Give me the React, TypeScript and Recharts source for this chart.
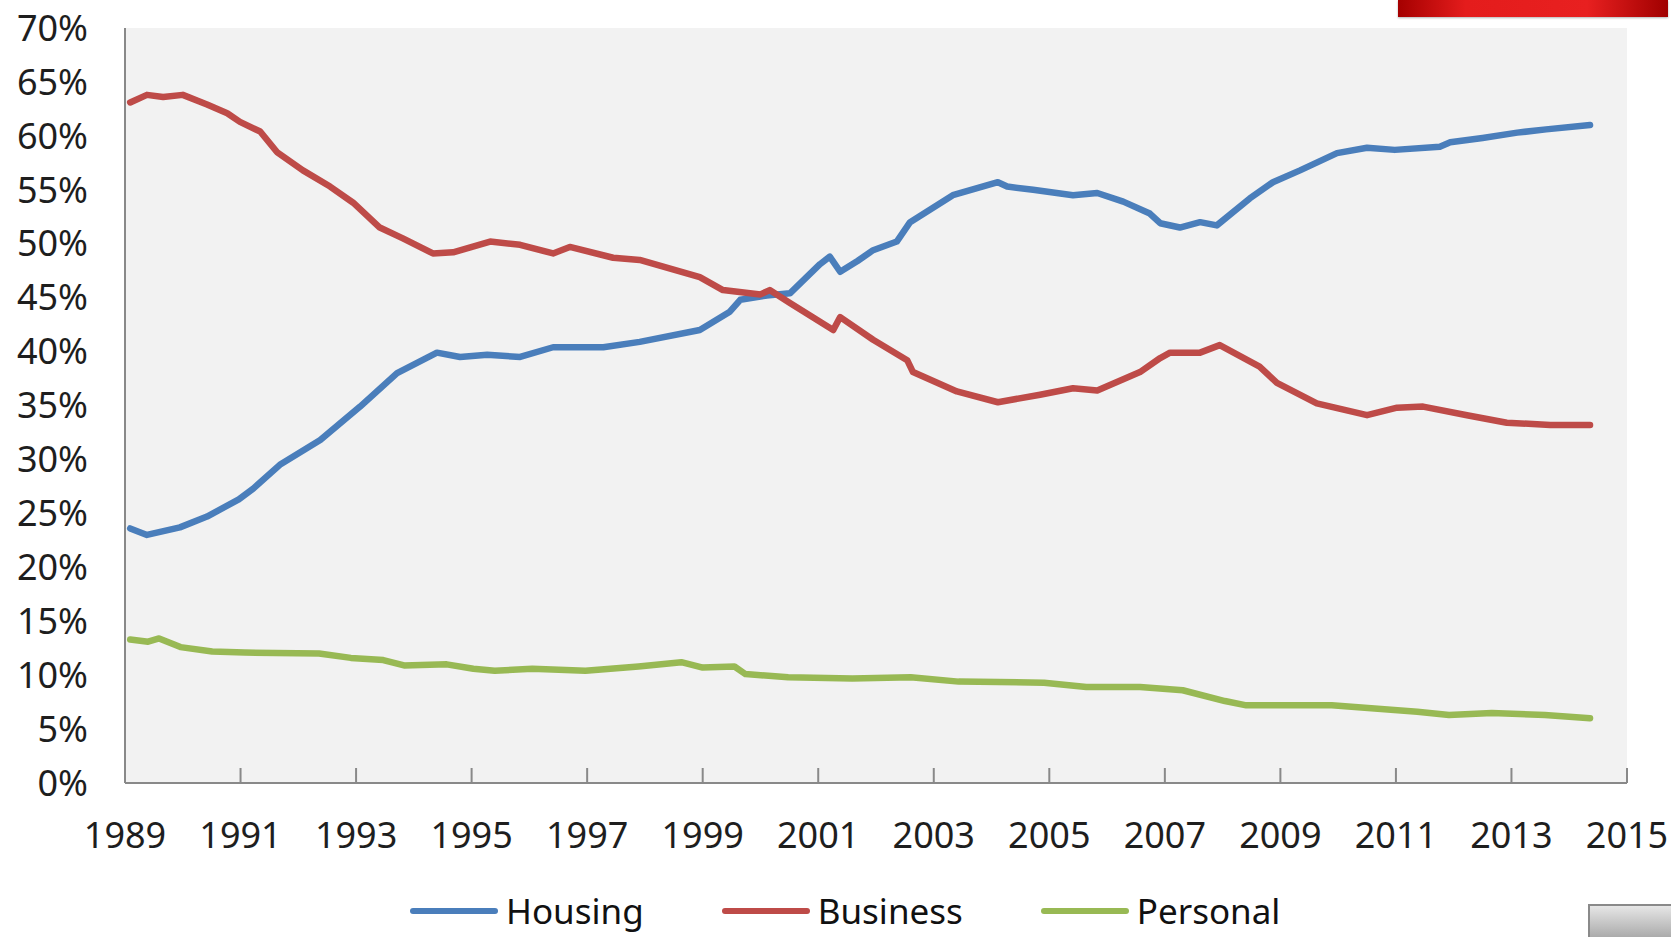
import React from 'react';
import { LineChart, Line, XAxis, YAxis, CartesianGrid, Legend } from 'recharts';

// share of outstanding lending by segment, % of total
const HOUSING_YEARS = [1989.09, 1989.38, 1989.95, 1990.42, 1990.97, 1991.22, 1991.68, 1992.38, 1993.07, 1993.71, 1994.4, 1994.8, 1995.27, 1995.84, 1996.41, 1997.28, 1997.91, 1998.95, 1999.47, 1999.65, 2000.11, 2000.51, 2001.03, 2001.2, 2001.38, 2001.68, 2001.95, 2002.36, 2002.59, 2003.33, 2004.11, 2004.27, 2004.72, 2005.41, 2005.83, 2006.28, 2006.74, 2006.92, 2007.26, 2007.61, 2007.9, 2008.47, 2008.87, 2009.34, 2009.98, 2010.5, 2010.98, 2011.76, 2011.94, 2012.5, 2013.1, 2013.6, 2014.36];
const HOUSING = [23.6, 23.0, 23.7, 24.7, 26.3, 27.3, 29.5, 31.8, 34.9, 38.0, 39.9, 39.5, 39.7, 39.5, 40.4, 40.4, 40.9, 42.0, 43.7, 44.8, 45.2, 45.4, 48.1, 48.8, 47.4, 48.4, 49.4, 50.2, 52.0, 54.5, 55.7, 55.3, 55.0, 54.5, 54.7, 53.9, 52.8, 51.9, 51.5, 52.0, 51.7, 54.2, 55.7, 56.8, 58.4, 58.9, 58.7, 59.0, 59.4, 59.8, 60.3, 60.6, 61.0];

const BUSINESS_YEARS = [1989.09, 1989.38, 1989.66, 1990.0, 1990.42, 1990.77, 1990.99, 1991.34, 1991.63, 1992.08, 1992.55, 1992.95, 1993.41, 1993.81, 1994.33, 1994.68, 1995.32, 1995.84, 1996.41, 1996.7, 1997.45, 1997.91, 1998.95, 1999.35, 2000.0, 2000.16, 2000.51, 2001.26, 2001.38, 2001.95, 2002.54, 2002.64, 2003.4, 2004.11, 2004.84, 2005.41, 2005.83, 2006.57, 2006.92, 2007.09, 2007.61, 2007.95, 2008.64, 2008.94, 2009.63, 2010.5, 2011.02, 2011.47, 2012.23, 2012.92, 2013.67, 2014.36];
const BUSINESS = [63.1, 63.8, 63.6, 63.8, 62.9, 62.1, 61.3, 60.4, 58.5, 56.8, 55.3, 53.8, 51.5, 50.5, 49.1, 49.2, 50.2, 49.9, 49.1, 49.7, 48.7, 48.5, 46.9, 45.7, 45.3, 45.7, 44.5, 42.0, 43.2, 41.1, 39.2, 38.1, 36.3, 35.3, 36.0, 36.6, 36.4, 38.1, 39.4, 39.9, 39.9, 40.6, 38.6, 37.1, 35.2, 34.1, 34.8, 34.9, 34.1, 33.4, 33.2, 33.2];

const PERSONAL_YEARS = [1989.09, 1989.4, 1989.59, 1989.96, 1990.51, 1991.07, 1992.36, 1992.91, 1993.47, 1993.83, 1994.57, 1995.03, 1995.4, 1996.05, 1996.97, 1997.89, 1998.63, 1999.0, 1999.55, 1999.74, 2000.48, 2001.59, 2002.6, 2003.43, 2004.91, 2005.64, 2006.57, 2007.31, 2008.04, 2008.41, 2009.89, 2010.63, 2011.37, 2011.92, 2012.66, 2013.58, 2014.36];
const PERSONAL = [13.3, 13.1, 13.4, 12.6, 12.2, 12.1, 12.0, 11.6, 11.4, 10.9, 11.0, 10.6, 10.4, 10.6, 10.4, 10.8, 11.2, 10.7, 10.8, 10.1, 9.8, 9.7, 9.8, 9.4, 9.3, 8.9, 8.9, 8.6, 7.6, 7.2, 7.2, 6.9, 6.6, 6.3, 6.5, 6.3, 6.0];

const X_TICKS = [1989, 1991, 1993, 1995, 1997, 1999, 2001, 2003, 2005, 2007, 2009, 2011, 2013, 2015];
const Y_TICKS = [0, 5, 10, 15, 20, 25, 30, 35, 40, 45, 50, 55, 60, 65, 70];

const SERIES = [
  { name: 'Housing', color: '#4a7ebb', years: HOUSING_YEARS, values: HOUSING },
  { name: 'Business', color: '#be4b48', years: BUSINESS_YEARS, values: BUSINESS },
  { name: 'Personal', color: '#98b954', years: PERSONAL_YEARS, values: PERSONAL },
];

const FONT = '"Noto Sans", "Open Sans", sans-serif';
const AXIS_GREY = '#898989';

const toPoints = (years: number[], values: number[]) =>
  years.map((year, i) => ({ year, value: values[i] }));

// Excel-style inner tick marks with the label below the axis
const YearTick = (props: any) => {
  const { x, y, payload } = props;
  return (
    <g>
      <line x1={x} y1={y} x2={x} y2={y - 15} stroke={AXIS_GREY} strokeWidth={2} />
      <text x={x} y={y + 55} textAnchor="middle" dominantBaseline="middle" fill="#1e1e1e" fontSize={36} fontFamily={FONT}>
        {payload.value}
      </text>
    </g>
  );
};

const LegendContent = () => (
  <div style={{ display: 'flex', alignItems: 'center', paddingLeft: 410, gap: 78, fontFamily: FONT, fontSize: 35, color: '#111' }}>
    {SERIES.map((s) => (
      <div key={s.name} style={{ display: 'flex', alignItems: 'center', gap: 8 }}>
        <div style={{ width: 88, height: 6, borderRadius: 3, background: s.color }} />
        <span style={{ lineHeight: '36px' }}>{s.name}</span>
      </div>
    ))}
  </div>
);

export default function App() {
  return (
    <div style={{ position: 'absolute', left: 0, top: 0, width: 1671, height: 937, background: '#fff', overflow: 'hidden' }}>
      <LineChart width={1671} height={937} margin={{ top: 28, right: 44, left: 0, bottom: 84 }}>
        <CartesianGrid fill="#f2f2f2" stroke="none" horizontal={false} vertical={false} />
        <XAxis
          dataKey="year"
          type="number"
          domain={[1989, 2015]}
          ticks={X_TICKS}
          allowDuplicatedCategory={false}
          height={70}
          tickSize={0}
          tickMargin={0}
          tickLine={false}
          axisLine={{ stroke: AXIS_GREY, strokeWidth: 2 }}
          tick={<YearTick />}
          interval={0}
        />
        <YAxis
          type="number"
          domain={[0, 70]}
          ticks={Y_TICKS}
          width={125}
          tickSize={0}
          tickMargin={37}
          tickLine={false}
          axisLine={{ stroke: AXIS_GREY, strokeWidth: 2 }}
          tickFormatter={(v: number) => `${v}%`}
          tick={{ fill: '#1e1e1e', fontSize: 36, fontFamily: FONT }}
          interval={0}
        />
        {SERIES.map((s) => (
          <Line
            key={s.name}
            data={toPoints(s.years, s.values)}
            dataKey="value"
            name={s.name}
            type="linear"
            stroke={s.color}
            strokeWidth={6.5}
            strokeLinecap="round"
            strokeLinejoin="round"
            dot={false}
            isAnimationActive={false}
          />
        ))}
        <Legend
          layout="horizontal"
          verticalAlign="middle"
          align="center"
          wrapperStyle={{ top: 893, left: 0, width: 1671 }}
          content={<LegendContent />}
        />
      </LineChart>
      {/* red banner clipped at the top edge */}
      <div style={{ position: 'absolute', left: 1398, top: 0, width: 270, height: 17, background: 'linear-gradient(to right, #a50000, #e41c1c 25%, #e82020 70%, #a00000)', boxShadow: '0 1px 2px rgba(0,0,0,0.3)' }} />
      {/* small framed picture in the corner */}
      <div style={{ position: 'absolute', left: 1588, top: 904, width: 83, height: 40, border: '2px solid #8a8a8a', background: 'linear-gradient(#e6e6e6, #9a9a9a)' }} />
    </div>
  );
}
